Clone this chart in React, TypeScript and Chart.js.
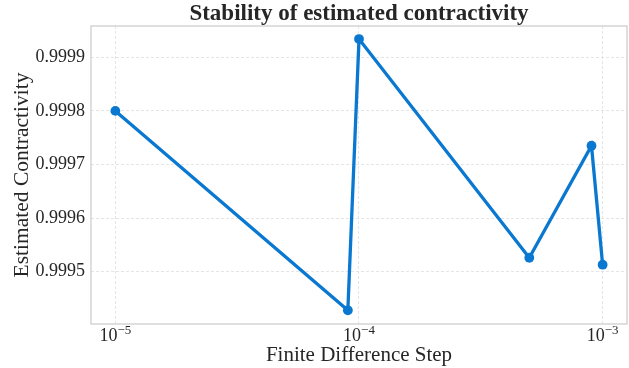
import React, { useEffect, useRef } from "react";
import { Chart, registerables } from "chart.js";

Chart.register(...registerables);

const stepSizes = [1e-5, 9e-5, 1e-4, 5e-4, 9e-4, 1e-3];
const contractivity = [0.9998, 0.999428, 0.999934, 0.999526, 0.999735, 0.999513];
const xTickExponents = [-5, -4, -3];
const yTickValues = [0.9995, 0.9996, 0.9997, 0.9998, 0.9999];

const titleText = "Stability of estimated contractivity";
const xLabel = "Finite Difference Step";
const yLabel = "Estimated Contractivity";

const SERIF = "'Liberation Serif', 'DejaVu Serif', serif";
const TEXT = "#262626";
const LINE = "#0a78d0";

export default function App() {
  const ref = useRef<HTMLCanvasElement | null>(null);

  useEffect(() => {
    document.body.style.margin = "0";
    const canvas = ref.current;
    if (!canvas) return;

    const deco = {
      id: "deco",
      beforeDatasetsDraw(chart: any) {
        const { ctx, chartArea } = chart;
        ctx.save();
        ctx.strokeStyle = "#cccccc";
        ctx.lineWidth = 1.25;
        ctx.setLineDash([]);
        ctx.strokeRect(chartArea.left, chartArea.top, chartArea.right - chartArea.left, chartArea.bottom - chartArea.top);
        ctx.restore();
      },
      afterDraw(chart: any) {
        const { ctx, chartArea } = chart;
        ctx.save();
        ctx.fillStyle = TEXT;
        ctx.font = `bold 23px ${SERIF}`;
        ctx.textAlign = "center";
        ctx.textBaseline = "alphabetic";
        ctx.fillText(titleText, (chartArea.left + chartArea.right) / 2, 20);
        const xs = chart.scales.x;
        xTickExponents.forEach((e) => {
          const px = xs.getPixelForValue(Math.pow(10, e));
          const base = "10";
          const sup = "\u2212" + Math.abs(e);
          ctx.font = `18px ${SERIF}`;
          const wb = ctx.measureText(base).width;
          ctx.font = `13px ${SERIF}`;
          const ws = ctx.measureText(sup).width;
          const x0 = px - (wb + ws) / 2;
          const baseline = chartArea.bottom + 17;
          ctx.textAlign = "left";
          ctx.font = `18px ${SERIF}`;
          ctx.fillText(base, x0, baseline);
          ctx.font = `13px ${SERIF}`;
          ctx.fillText(sup, x0 + wb, baseline - 7);
        });
        ctx.restore();
      },
    };

    const chart = new Chart(canvas, {
      type: "line",
      data: {
        datasets: [
          {
            data: stepSizes.map((x, i) => ({ x, y: contractivity[i] })),
            borderColor: LINE,
            backgroundColor: LINE,
            borderWidth: 3.3,
            pointRadius: 4.9,
            pointHoverRadius: 4.9,
            pointBorderWidth: 0,
            tension: 0,
          },
        ],
      },
      options: {
        animation: false,
        responsive: false,
        layout: { autoPadding: false, padding: { top: 26, right: 2, left: 0, bottom: 0 } },
        plugins: { legend: { display: false }, title: { display: false }, tooltip: { enabled: false } },
        scales: {
          x: {
            type: "logarithmic",
            min: Math.pow(10, -5.1),
            max: Math.pow(10, -2.9),
            afterBuildTicks: (scale: any) => {
              scale.ticks = xTickExponents.map((e) => ({ value: Math.pow(10, e) }));
            },
            afterFit: (scale: any) => {
              scale.height = 44;
            },
            ticks: { color: "rgba(0,0,0,0)", font: { family: SERIF, size: 10 }, callback: () => "" },
            grid: { color: "#dedede", lineWidth: 0.8, drawTicks: false },
            border: { display: false, dash: [3, 2] },
            title: {
              display: true,
              text: xLabel,
              color: TEXT,
              font: { family: SERIF, size: 21 },
              padding: { top: 0, bottom: 0 },
            },
          },
          y: {
            type: "linear",
            min: 0.9994024,
            max: 0.9999584,
            afterBuildTicks: (scale: any) => {
              scale.ticks = yTickValues.map((v) => ({ value: v }));
            },
            afterFit: (scale: any) => {
              scale.width = 91;
            },
            ticks: {
              color: TEXT,
              font: { family: SERIF, size: 18 },
              padding: 6,
              callback: (v: any) => Number(v).toFixed(4),
            },
            grid: { color: "#dedede", lineWidth: 0.8, drawTicks: false },
            border: { display: false, dash: [3, 2] },
            title: {
              display: true,
              text: yLabel,
              color: TEXT,
              font: { family: SERIF, size: 21.5 },
              padding: { top: 9, bottom: 0 },
            },
          },
        },
      },
      plugins: [deco],
    } as any);

    return () => chart.destroy();
  }, []);

  return (
    <div style={{ width: 629, height: 368 }}>
      <canvas ref={ref} width={629} height={368} style={{ display: "block" }} />
    </div>
  );
}
